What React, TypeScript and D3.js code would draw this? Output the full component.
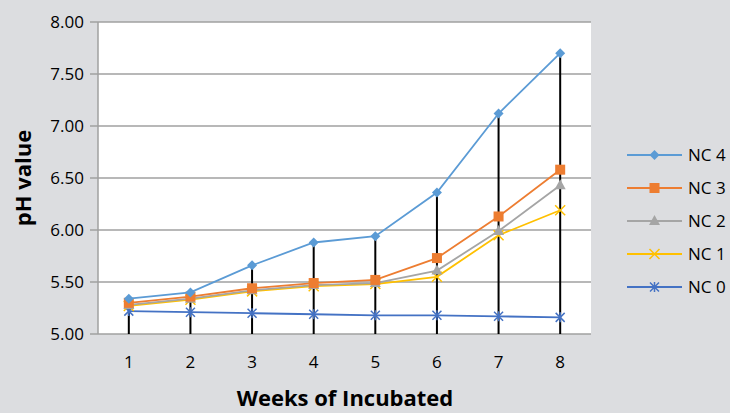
import React from "react";
import * as d3 from "d3";

const weeks = ["1", "2", "3", "4", "5", "6", "7", "8"];
const yTicks = [5.0, 5.5, 6.0, 6.5, 7.0, 7.5, 8.0];

const nc4 = [5.34, 5.4, 5.66, 5.88, 5.94, 6.36, 7.12, 7.7];
const nc3 = [5.3, 5.36, 5.44, 5.49, 5.52, 5.73, 6.13, 6.58];
const nc2 = [5.28, 5.34, 5.42, 5.47, 5.49, 5.61, 5.99, 6.43];
const nc1 = [5.27, 5.33, 5.41, 5.46, 5.48, 5.55, 5.95, 6.19];
const nc0 = [5.22, 5.21, 5.2, 5.19, 5.18, 5.18, 5.17, 5.16];

const seriesNames = ["NC 4", "NC 3", "NC 2", "NC 1", "NC 0"];
const seriesValues = [nc4, nc3, nc2, nc1, nc0];
const seriesColors = ["#5b9bd5", "#ed7d31", "#a5a5a5", "#ffc000", "#4472c4"];
const seriesMarkers = ["diamond", "square", "triangle", "x", "star"];

const W = 730;
const H = 413;
const plot = { left: 98, right: 591, top: 22, bottom: 334 };
const font = "'Open Sans', 'Noto Sans', sans-serif";

function Marker({ kind, x, y, color }: { kind: string; x: number; y: number; color: string }) {
  if (kind === "diamond") {
    return <path d={`M${x},${y - 5}L${x + 5},${y}L${x},${y + 5}L${x - 5},${y}Z`} fill={color} />;
  }
  if (kind === "square") {
    return <rect x={x - 5} y={y - 5} width={10} height={10} fill={color} />;
  }
  if (kind === "triangle") {
    return <path d={`M${x},${y - 6}L${x + 5.5},${y + 4}L${x - 5.5},${y + 4}Z`} fill={color} />;
  }
  if (kind === "x") {
    return (
      <path d={`M${x - 5},${y - 5}L${x + 5},${y + 5}M${x + 5},${y - 5}L${x - 5},${y + 5}`} stroke={color} strokeWidth={1.5} />
    );
  }
  return (
    <path
      d={`M${x - 4.5},${y - 4.5}L${x + 4.5},${y + 4.5}M${x + 4.5},${y - 4.5}L${x - 4.5},${y + 4.5}M${x},${y - 5}L${x},${y + 5}`}
      stroke={color}
      strokeWidth={1.5}
    />
  );
}

export default function App() {
  const x = d3.scaleBand().domain(weeks).range([plot.left, plot.right]);
  const y = d3.scaleLinear().domain([5, 8]).range([plot.bottom, plot.top]);
  const cx = (w: string) => (x(w) as number) + x.bandwidth() / 2;

  const line = d3
    .line<number>()
    .x((_, i) => cx(weeks[i]))
    .y((d) => y(d));

  // drop lines run from the highest series down to the axis
  const maxes = weeks.map((_, i) => d3.max(seriesValues, (s) => s[i]) as number);

  return (
    <svg
      width={W}
      height={H}
      style={{ position: "absolute", left: 0, top: 0, display: "block" }}
    >
      <rect x={0} y={0} width={W} height={H} fill="#dcdde0" />
      <rect x={plot.left} y={plot.top} width={plot.right - plot.left} height={plot.bottom - plot.top} fill="#ffffff" />

      {yTicks.map((t) => (
        <g key={t}>
          <line x1={plot.left} x2={plot.right} y1={y(t)} y2={y(t)} stroke="#a0a0a0" strokeWidth={1.5} />
          <line x1={plot.left - 8} x2={plot.left} y1={y(t)} y2={y(t)} stroke="#a0a0a0" strokeWidth={1.5} />
          <text
            x={plot.left - 14}
            y={y(t)}
            dy="0.35em"
            textAnchor="end"
            fontFamily={font}
            fontSize={17}
            fill="#000"
          >
            {t.toFixed(2)}
          </text>
        </g>
      ))}
      <line x1={plot.left} x2={plot.left} y1={plot.top} y2={plot.bottom} stroke="#a0a0a0" strokeWidth={1.5} />

      {weeks.map((w) => (
        <text key={w} x={cx(w)} y={368} textAnchor="middle" fontFamily={font} fontSize={17} fill="#000">
          {w}
        </text>
      ))}

      {weeks.map((w, i) => (
        <line key={w} x1={cx(w)} x2={cx(w)} y1={y(maxes[i])} y2={plot.bottom} stroke="#000" strokeWidth={2} />
      ))}

      {seriesValues
        .map((vals, si) => ({ vals, si }))
        .reverse()
        .map(({ vals, si }) => (
          <g key={seriesNames[si]}>
            <path d={line(vals) as string} fill="none" stroke={seriesColors[si]} strokeWidth={1.8} />
            {vals.map((v, i) => (
              <Marker key={i} kind={seriesMarkers[si]} x={cx(weeks[i])} y={y(v)} color={seriesColors[si]} />
            ))}
          </g>
        ))}

      {seriesNames.map((n, si) => {
        const ly = 155 + si * 33;
        return (
          <g key={n}>
            <line x1={627} x2={682} y1={ly} y2={ly} stroke={seriesColors[si]} strokeWidth={1.8} />
            <Marker kind={seriesMarkers[si]} x={654.5} y={ly} color={seriesColors[si]} />
            <text x={688} y={ly} dy="0.35em" fontFamily={font} fontSize={17} fill="#000">
              {n}
            </text>
          </g>
        );
      })}

      <text
        transform={`translate(31,${(plot.top + plot.bottom) / 2}) rotate(-90)`}
        textAnchor="middle"
        fontFamily={font}
        fontSize={22}
        fontWeight="bold"
        fill="#000"
      >
        pH value
      </text>
      <text x={345} y={406} textAnchor="middle" fontFamily={font} fontSize={22} fontWeight="bold" fill="#000">
        Weeks of Incubated
      </text>
    </svg>
  );
}
